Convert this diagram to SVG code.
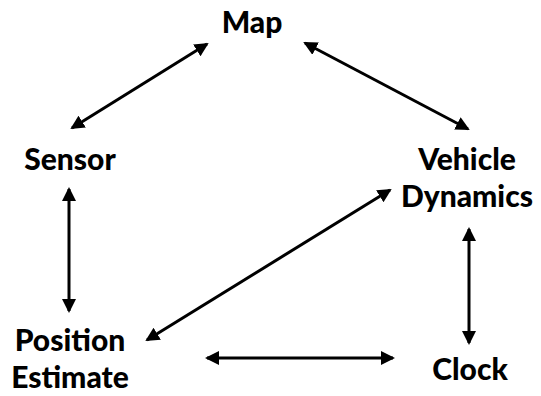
<svg xmlns="http://www.w3.org/2000/svg" width="541" height="396" viewBox="0 0 541 396">
<style>
.lbl{font-family:Lato,"Open Sans","Liberation Sans",sans-serif;font-weight:900;font-size:30px;fill:#000;text-anchor:middle}
.c{stroke:#000;stroke-width:3;fill:none;marker-start:url(#ah);marker-end:url(#ah)}
</style>
<defs>
<marker id="ah" markerUnits="userSpaceOnUse" viewBox="0 0 14 14" refX="12" refY="7" markerWidth="14" markerHeight="14" orient="auto-start-reverse">
<path d="M0,0 L14,7 L0,14 Z" fill="#000"/>
</marker>
</defs>
<rect width="541" height="396" fill="#fff"/>
<g id="connectors">
<line class="c" x1="72" y1="128" x2="207" y2="44"/>
<line class="c" x1="305" y1="43" x2="468" y2="129"/>
<line class="c" x1="69" y1="189" x2="69" y2="311"/>
<line class="c" x1="390" y1="190" x2="147" y2="340"/>
<line class="c" x1="469" y1="229" x2="469" y2="343"/>
<line class="c" x1="207" y1="358" x2="393" y2="358"/>
</g>
<g id="map"><text class="lbl" x="252" y="33">Map</text></g>
<g id="sensor"><text class="lbl" x="70" y="170">Sensor</text></g>
<g id="vehicle"><text class="lbl" x="467" y="170">Vehicle</text><text class="lbl" x="467" y="207">Dynamics</text></g>
<g id="position"><text class="lbl" x="70" y="351">Position</text><text class="lbl" x="70" y="388">Estimate</text></g>
<g id="clock"><text class="lbl" x="470" y="380">Clock</text></g>
</svg>
